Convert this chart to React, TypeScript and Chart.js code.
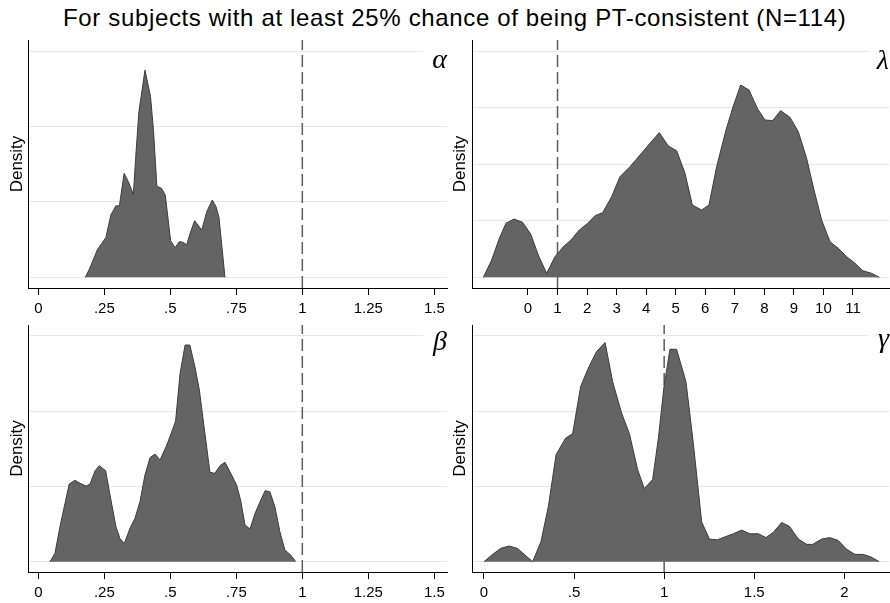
import React, { useEffect, useRef } from "react";
import { Chart, registerables } from "chart.js";

Chart.register(...registerables);

const SANS = "'Liberation Sans', Arial, Helvetica, sans-serif";
const SERIF = "'Liberation Serif', 'Times New Roman', serif";

const TITLE = "For subjects with at least 25% chance of being PT-consistent (N=114)";

// Tick values / labels
const unitTicks = [0, 0.25, 0.5, 0.75, 1, 1.25, 1.5];
const unitTickLabels = ["0", ".25", ".5", ".75", "1", "1.25", "1.5"];
const lambdaTicks = [0, 1, 2, 3, 4, 5, 6, 7, 8, 9, 10, 11];
const lambdaTickLabels = ["0", "1", "2", "3", "4", "5", "6", "7", "8", "9", "10", "11"];
const gammaTicks = [0, 0.5, 1, 1.5, 2];
const gammaTickLabels = ["0", ".5", "1", "1.5", "2"];

// Density curves (arbitrary density units; grid lines at integer units)
const alphaX = [0.178, 0.193, 0.208, 0.223, 0.240, 0.256, 0.275, 0.294, 0.307, 0.325, 0.341, 0.360, 0.369, 0.381, 0.404, 0.425, 0.436, 0.449, 0.467, 0.481, 0.501, 0.518, 0.534, 0.549, 0.562, 0.575, 0.592, 0.619, 0.638, 0.659, 0.673, 0.684, 0.707];
const alphaY = [0, 0.106, 0.23, 0.363, 0.45, 0.53, 0.83, 0.95, 0.947, 1.38, 1.27, 1.10, 1.60, 2.20, 2.75, 2.40, 1.96, 1.21, 1.18, 1.09, 0.487, 0.394, 0.473, 0.465, 0.43, 0.584, 0.752, 0.628, 0.872, 1.027, 0.938, 0.805, 0];

const lambdaX = [-1.512, -1.230, -0.970, -0.745, -0.474, -0.181, 0.090, 0.361, 0.632, 0.914, 1.196, 1.455, 1.737, 2.019, 2.268, 2.527, 2.832, 3.114, 3.452, 3.791, 4.129, 4.445, 4.750, 5.032, 5.314, 5.562, 5.878, 6.126, 6.385, 6.701, 6.949, 7.198, 7.480, 7.773, 8.021, 8.281, 8.551, 8.867, 9.149, 9.431, 9.680, 9.939, 10.221, 10.503, 10.785, 11.067, 11.327, 11.631, 11.891];
const lambdaY = [0, 0.307, 0.69, 0.956, 1.032, 0.973, 0.767, 0.378, 0.071, 0.366, 0.543, 0.661, 0.838, 0.956, 1.091, 1.145, 1.428, 1.782, 1.959, 2.165, 2.372, 2.561, 2.324, 2.242, 1.841, 1.280, 1.192, 1.280, 1.959, 2.608, 3.032, 3.404, 3.316, 2.979, 2.785, 2.773, 2.950, 2.832, 2.578, 2.106, 1.546, 1.015, 0.631, 0.513, 0.366, 0.248, 0.118, 0.071, 0];

const betaX = [0.044, 0.063, 0.082, 0.101, 0.117, 0.139, 0.158, 0.181, 0.196, 0.215, 0.231, 0.255, 0.275, 0.294, 0.309, 0.326, 0.347, 0.366, 0.385, 0.404, 0.423, 0.442, 0.461, 0.484, 0.501, 0.520, 0.537, 0.556, 0.574, 0.593, 0.610, 0.631, 0.650, 0.669, 0.688, 0.707, 0.729, 0.751, 0.766, 0.783, 0.802, 0.821, 0.840, 0.859, 0.877, 0.896, 0.915, 0.934, 0.956, 0.975];
const betaY = [0, 0.111, 0.465, 0.774, 1.031, 1.080, 1.040, 1.004, 1.031, 1.208, 1.274, 1.208, 0.819, 0.465, 0.310, 0.243, 0.442, 0.575, 0.796, 1.150, 1.381, 1.429, 1.350, 1.527, 1.681, 1.867, 2.500, 2.876, 2.876, 2.588, 2.279, 1.704, 1.186, 1.173, 1.274, 1.319, 1.173, 1.018, 0.819, 0.487, 0.434, 0.642, 0.796, 0.942, 0.929, 0.730, 0.398, 0.155, 0.088, 0];

const gammaX = [0, 0.043, 0.093, 0.139, 0.185, 0.228, 0.270, 0.316, 0.357, 0.400, 0.431, 0.453, 0.492, 0.514, 0.537, 0.583, 0.625, 0.672, 0.714, 0.764, 0.807, 0.853, 0.890, 0.936, 0.968, 0.999, 1.032, 1.069, 1.121, 1.162, 1.208, 1.251, 1.295, 1.338, 1.384, 1.430, 1.476, 1.523, 1.565, 1.606, 1.652, 1.695, 1.745, 1.791, 1.824, 1.874, 1.920, 1.967, 2.013, 2.059, 2.102, 2.146, 2.194];
const gammaY = [0, 0.088, 0.177, 0.208, 0.177, 0.088, 0, 0.265, 0.73, 1.42, 1.55, 1.64, 1.70, 2.01, 2.33, 2.59, 2.79, 2.91, 2.39, 1.97, 1.70, 1.22, 0.97, 1.09, 1.64, 2.32, 2.82, 2.82, 2.39, 1.57, 0.53, 0.30, 0.29, 0.33, 0.37, 0.42, 0.37, 0.37, 0.32, 0.39, 0.52, 0.47, 0.30, 0.23, 0.23, 0.30, 0.32, 0.28, 0.164, 0.097, 0.097, 0.066, 0];

const refValue = 1; // dashed reference line

type Panel = {
  key: string;
  letter: string;
  xs: number[];
  ys: number[];
  xTicks: number[];
  xLabels: string[];
  yGrid: number[];
  xmin: number; xmax: number; ymin: number; ymax: number;
  left: number; top: number; w: number; h: number;
  padTop: number; padRight: number; yw: number; xh: number; titlePad: number;
  letterBox: { left: number; top: number; width: number; height: number };
};

const panels: Panel[] = [
  {
    key: "alpha", letter: "α", xs: alphaX, ys: alphaY, xTicks: unitTicks, xLabels: unitTickLabels,
    yGrid: [0, 1, 2, 3], xmin: -0.0391, xmax: 1.548, ymin: -0.1416, ymax: 3.15,
    left: 0, top: 30, w: 450, h: 290, padTop: 10, padRight: 3, yw: 28, xh: 32, titlePad: 6.8,
    letterBox: { left: 423, top: 44, width: 24, height: 30 },
  },
  {
    key: "lambda", letter: "λ", xs: lambdaX, ys: lambdaY, xTicks: lambdaTicks, xLabels: lambdaTickLabels,
    yGrid: [0, 1, 2, 3, 4], xmin: -1.895, xmax: 12.219, ymin: -0.1888, ymax: 4.2005,
    left: 440, top: 30, w: 450, h: 290, padTop: 10, padRight: 1, yw: 32, xh: 32, titlePad: 9.8,
    letterBox: { left: 868, top: 45, width: 21, height: 30 },
  },
  {
    key: "beta", letter: "β", xs: betaX, ys: betaY, xTicks: unitTicks, xLabels: unitTickLabels,
    yGrid: [0, 1, 2, 3], xmin: -0.0391, xmax: 1.548, ymin: -0.137, ymax: 3.142,
    left: 0, top: 310, w: 450, h: 293, padTop: 15, padRight: 3, yw: 28, xh: 31, titlePad: 6.8,
    letterBox: { left: 423, top: 325, width: 24, height: 32 },
  },
  {
    key: "gamma", letter: "γ", xs: gammaX, ys: gammaY, xTicks: gammaTicks, xLabels: gammaTickLabels,
    yGrid: [0, 1, 2, 3], xmin: -0.0666, xmax: 2.248, ymin: -0.137, ymax: 3.142,
    left: 440, top: 310, w: 450, h: 293, padTop: 15, padRight: 1, yw: 32, xh: 31, titlePad: 9.8,
    letterBox: { left: 868, top: 322, width: 21, height: 32 },
  },
];

function makeConfig(p: Panel): any {
  const pts = p.xs.map((x, i) => ({ x, y: p.ys[i] }));
  return {
    type: "line",
    data: {
      datasets: [
        {
          data: pts,
          fill: "origin",
          backgroundColor: "#646464",
          borderColor: "#3c3c3c",
          borderWidth: 1,
          pointRadius: 0,
          tension: 0,
          order: 0,
        },
        {
          data: [
            { x: refValue, y: p.ymin },
            { x: refValue, y: p.ymax },
          ],
          fill: false,
          borderColor: "#5c5c5c",
          borderWidth: 1.5,
          borderDash: [12, 5],
          pointRadius: 0,
          order: 1,
        },
      ],
    },
    options: {
      animation: false,
      responsive: false,
      maintainAspectRatio: false,
      events: [],
      layout: { padding: { left: 0, top: p.padTop, right: p.padRight, bottom: 0 } },
      plugins: {
        legend: { display: false },
        tooltip: { enabled: false },
        title: { display: false },
      },
      scales: {
        x: {
          type: "linear",
          min: p.xmin,
          max: p.xmax,
          afterBuildTicks: (s: any) => {
            s.ticks = p.xTicks.map((v) => ({ value: v }));
          },
          afterFit: (s: any) => {
            s.height = p.xh;
          },
          grid: { drawOnChartArea: false, drawTicks: true, tickLength: 7, tickColor: "#000", tickWidth: 1 },
          border: { display: true, color: "#000", width: 1 },
          ticks: {
            font: { family: SANS, size: 15 },
            color: "#000",
            padding: 5,
            maxRotation: 0,
            autoSkip: false,
            callback: (_v: any, i: number) => p.xLabels[i],
          },
        },
        y: {
          type: "linear",
          min: p.ymin,
          max: p.ymax,
          afterBuildTicks: (s: any) => {
            s.ticks = p.yGrid.map((v) => ({ value: v }));
          },
          afterFit: (s: any) => {
            s.width = p.yw;
          },
          grid: { color: "#e8e8e8", drawTicks: false, lineWidth: 1 },
          border: { display: true, color: "#000", width: 1 },
          ticks: { display: false },
          title: {
            display: true,
            text: "Density",
            font: { family: SANS, size: 17 },
            color: "#000",
            padding: { top: p.titlePad, bottom: 0 },
          },
        },
      },
    },
  };
}

function PanelChart({ p }: { p: Panel }) {
  const ref = useRef<HTMLCanvasElement | null>(null);
  useEffect(() => {
    if (!ref.current) return;
    const chart = new Chart(ref.current, makeConfig(p));
    return () => chart.destroy();
  }, [p]);
  return (
    <canvas
      ref={ref}
      width={p.w}
      height={p.h}
      style={{ position: "absolute", left: p.left, top: p.top, width: p.w, height: p.h }}
    />
  );
}

export default function App() {
  return (
    <div
      style={{
        position: "fixed",
        left: 0,
        top: 0,
        width: 890,
        height: 603,
        background: "#fff",
        overflow: "hidden",
      }}
    >
      <div
        style={{
          position: "absolute",
          left: 63,
          top: 5.7,
          fontFamily: SANS,
          fontSize: 24,
          lineHeight: "24px",
          letterSpacing: "0.65px",
          whiteSpace: "nowrap",
          color: "#000",
        }}
      >
        {TITLE}
      </div>
      {panels.map((p) => (
        <PanelChart key={p.key} p={p} />
      ))}
      {panels.map((p) => (
        <div
          key={p.key + "-letter"}
          style={{
            position: "absolute",
            left: p.letterBox.left,
            top: p.letterBox.top,
            width: p.letterBox.width,
            height: p.letterBox.height,
            background: "#fff",
            fontFamily: SERIF,
            fontStyle: "italic",
            fontSize: 28,
            lineHeight: p.letterBox.height + "px",
            textAlign: "right",
            color: "#000",
          }}
        >
          {p.letter}
        </div>
      ))}
    </div>
  );
}
